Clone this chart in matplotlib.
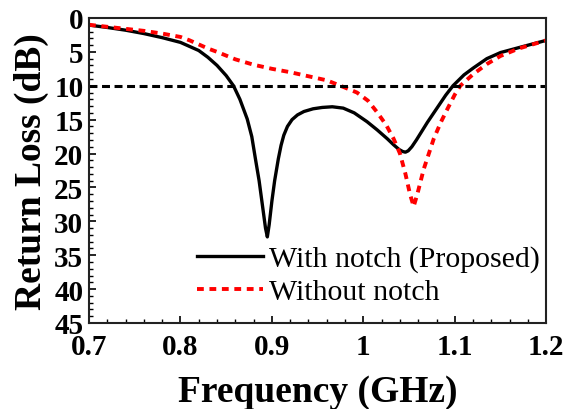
import matplotlib
matplotlib.use("Agg")
import matplotlib.pyplot as plt
from matplotlib.ticker import MultipleLocator

# Measured return loss (dB) versus frequency (GHz)
freq_notch = [0.700, 0.720, 0.740, 0.760, 0.780, 0.800, 0.820, 0.830, 0.840, 0.850,
              0.858, 0.865, 0.873, 0.878, 0.882, 0.886, 0.890, 0.893, 0.895, 0.897,
              0.900, 0.903, 0.907, 0.910, 0.913, 0.917, 0.922, 0.928, 0.935, 0.945,
              0.955, 0.966, 0.978, 0.990, 1.004, 1.015, 1.026, 1.033, 1.039, 1.043,
              1.046, 1.049, 1.053, 1.058, 1.064, 1.070, 1.080, 1.090, 1.098, 1.110,
              1.120, 1.135, 1.150, 1.172, 1.200]
rl_notch = [1.05, 1.4, 1.8, 2.3, 2.9, 3.6, 4.8, 5.8, 7.0, 8.5,
            10.0, 12.0, 14.9, 17.5, 20.8, 24.0, 28.0, 31.0, 32.3, 30.5,
            27.0, 24.0, 20.8, 18.8, 17.3, 16.0, 15.0, 14.3, 13.8, 13.4,
            13.2, 13.1, 13.3, 14.0, 15.3, 16.5, 17.8, 18.7, 19.4, 19.7,
            19.8, 19.6, 19.0, 18.0, 16.7, 15.4, 13.4, 11.4, 10.0, 8.4,
            7.4, 6.0, 5.1, 4.3, 3.3]

freq_plain = [0.700, 0.720, 0.740, 0.760, 0.780, 0.800, 0.810, 0.820, 0.830, 0.840,
              0.860, 0.880, 0.900, 0.920, 0.940, 0.960, 0.975, 0.993, 1.005, 1.015,
              1.025, 1.033, 1.040, 1.046, 1.051, 1.055, 1.059, 1.066, 1.077, 1.085,
              1.092, 1.100, 1.106, 1.120, 1.135, 1.150, 1.170, 1.200]
rl_plain = [1.0, 1.3, 1.6, 1.9, 2.3, 2.8, 3.3, 3.9, 4.5, 5.0,
            6.1, 6.9, 7.5, 8.0, 8.6, 9.2, 10.0, 11.0, 12.2, 13.9,
            15.8, 17.8, 20.0, 23.0, 26.0, 27.8, 26.0, 22.3, 17.8, 15.3,
            13.4, 11.3, 10.0, 8.3, 6.8, 5.6, 4.5, 3.3]

threshold_db = 10
x_ticks = [0.7, 0.8, 0.9, 1.0, 1.1, 1.2]
x_tick_labels = ["0.7", "0.8", "0.9", "1", "1.1", "1.2"]
y_ticks = [0, 5, 10, 15, 20, 25, 30, 35, 40, 45]

plt.rcParams["font.family"] = ["Liberation Serif", "DejaVu Serif"]

fig = plt.figure(figsize=(5.76, 4.10), dpi=100)
ax = fig.add_axes([0.1545, 0.2098, 0.7939, 0.7439])

ax.plot(freq_notch, rl_notch, color="black", lw=2.4, label="With notch (Proposed)")
ax.plot(freq_plain, rl_plain, color="#ff0000", lw=2.8, linestyle=(0, (1.75, 1.45)),
        label="Without notch")
ax.axhline(threshold_db, color="black", lw=2.2, linestyle=(0, (2.6, 1.5)))

ax.set_xlim(0.7, 1.2)
ax.set_ylim(45, 0)
ax.set_xticks(x_ticks)
ax.set_xticklabels(x_tick_labels)
ax.set_yticks(y_ticks)
ax.xaxis.set_minor_locator(MultipleLocator(0.02))
ax.yaxis.set_minor_locator(MultipleLocator(1))
ax.tick_params(which="both", direction="in", top=False, right=False)
ax.tick_params(which="major", length=5, width=1.2, labelsize=21)
ax.tick_params(axis="x", which="major", pad=7)
ax.tick_params(axis="y", which="major", pad=4)
ax.tick_params(which="minor", length=3, width=1.0)
for lab in ax.get_xticklabels() + ax.get_yticklabels():
    lab.set_fontweight("bold")
for sp in ax.spines.values():
    sp.set_linewidth(1.5)
    sp.set_color("#222222")

ax.set_xlabel("Frequency (GHz)", fontsize=27, fontweight="bold", labelpad=10)
ax.set_ylabel("Return Loss (dB)", fontsize=27, fontweight="bold", labelpad=4)

ax.legend(loc="upper left", bbox_to_anchor=(0.236, 0.255), frameon=False,
          fontsize=21.5, handlelength=2.2, handletextpad=0.2, labelspacing=0.2,
          borderpad=0, borderaxespad=0)

fig.savefig("out.png", dpi=100)
